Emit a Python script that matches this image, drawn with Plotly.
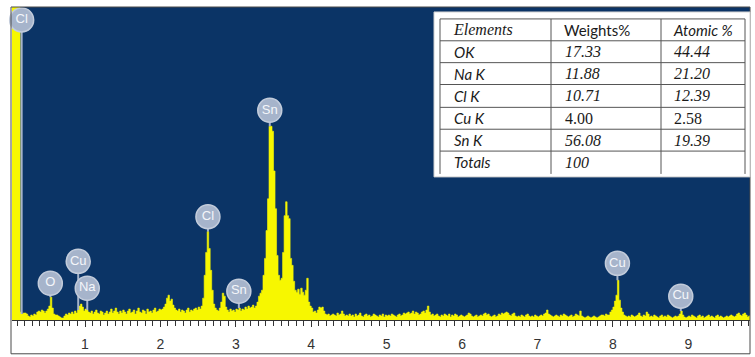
import numpy as np
import plotly.graph_objects as go

# ---------------- EDS spectrum (counts per 0.02 keV channel, 0.02 .. 9.82 keV) ----------------
E_START, E_STEP = 0.02, 0.02
counts = [
    # 0.02 - 0.50
    400, 400, 400, 400, 400, 400, 8, 6, 7, 7, 6, 4, 3, 5, 4, 6, 5, 8, 9, 8, 10, 9, 7, 9, 11,
    # 0.52 - 1.00
    14, 23, 12, 6, 5, 5, 4, 3, 2, 2, 4, 6, 5, 7, 6, 8, 6, 9, 7, 10, 14, 16, 13, 9, 11,
    # 1.02 - 1.50
    10, 8, 7, 9, 6, 8, 10, 7, 6, 9, 8, 5, 7, 9, 6, 8, 11, 7, 9, 12, 8, 6, 9, 7, 10,
    # 1.52 - 2.00
    8, 6, 9, 11, 7, 8, 10, 6, 9, 12, 8, 7, 10, 9, 6, 11, 8, 9, 7, 10, 12, 8, 9, 11, 10,
    # 2.02 - 2.50
    11, 13, 16, 22, 25, 19, 21, 15, 12, 10, 9, 11, 8, 10, 9, 7, 10, 12, 8, 10, 9, 11, 12, 10, 13,
    # 2.52 - 3.00
    11, 14, 22, 45, 68, 89, 72, 50, 30, 16, 12, 10, 9, 12, 18, 27, 24, 13, 10, 8, 11, 9, 10, 8, 11,
    # 3.02 - 3.50
    10, 12, 9, 11, 10, 13, 11, 14, 12, 13, 15, 12, 14, 18, 24, 27, 30, 45, 62, 90, 122, 195, 195, 190, 150,
    # 3.52 - 4.00
    112, 65, 45, 40, 42, 68, 105, 119, 105, 102, 62, 55, 39, 30, 28, 31, 26, 32, 28, 25, 30, 42, 18, 14, 12,
    # 4.02 - 4.50
    8, 9, 7, 10, 13, 12, 13, 9, 6, 5, 6, 4, 5, 6, 5, 4, 7, 5, 6, 9, 6, 4, 5, 4, 6,
    # 4.52 - 5.00
    4, 5, 3, 6, 4, 5, 7, 4, 3, 5, 6, 4, 5, 3, 4, 6, 5, 4, 3, 5, 4, 6, 3, 5, 4,
    # 5.02 - 5.50
    5, 4, 6, 5, 4, 3, 5, 6, 4, 5, 7, 6, 7, 8, 6, 7, 9, 6, 8, 7, 5, 6, 8, 9, 7,
    # 5.52 - 6.00
    10, 14, 8, 5, 6, 4, 5, 6, 4, 3, 5, 4, 6, 5, 4, 6, 3, 5, 4, 6, 5, 3, 4, 5, 4,
    # 6.02 - 6.50
    3, 4, 5, 7, 6, 4, 3, 4, 5, 3, 4, 5, 4, 6, 7, 5, 6, 4, 3, 4, 5, 3, 4, 6, 5,
    # 6.52 - 7.00
    7, 6, 7, 8, 7, 5, 4, 6, 7, 4, 3, 4, 3, 5, 4, 3, 5, 6, 4, 3, 4, 3, 5, 4, 3,
    # 7.02 - 7.50
    4, 5, 4, 6, 7, 10, 6, 5, 4, 3, 4, 5, 4, 3, 5, 4, 6, 5, 4, 3, 4, 5, 3, 4, 6,
    # 7.52 - 8.00
    5, 4, 9, 4, 3, 2, 3, 4, 3, 2, 3, 4, 3, 2, 3, 4, 5, 5, 4, 6, 5, 5, 8, 10, 13,
    # 8.02 - 8.50
    19, 25, 40, 20, 12, 8, 5, 4, 3, 4, 3, 5, 4, 3, 4, 5, 7, 4, 3, 5, 4, 8, 6, 3, 4,
    # 8.52 - 9.00
    3, 5, 4, 3, 2, 4, 5, 3, 4, 3, 5, 4, 3, 2, 3, 4, 3, 4, 6, 9, 5, 3, 2, 3, 4,
    # 9.02 - 9.50
    3, 5, 4, 3, 2, 4, 5, 3, 4, 2, 3, 4, 5, 3, 4, 3, 2, 4, 5, 3, 4, 3, 2, 3, 4,
    # 9.52 - 9.82
    3, 4, 5, 4, 3, 4, 6, 7, 5, 4, 6, 7, 5, 3, 4, 5,
]
energy = np.round(E_START + E_STEP * np.arange(len(counts)), 2)

# ---------------- peak identification badges ----------------
peak_names = ["Cl", "O", "Cu", "Na", "Cl", "Sn", "Sn", "Cu", "Cu"]
peak_energy = [0.16, 0.54, 0.91, 1.03, 2.63, 3.04, 3.45, 8.06, 8.90]
badge_height = [302, 37, 59, 32, 104, 29, 211, 57, 24]

# ---------------- quantification table ----------------
table_header = ["Elements", "Weights%", "Atomic %"]
table_elements = ["OK", "Na K", "Cl K", "Cu K", "Sn K", "Totals"]
table_weight = ["17.33", "11.88", "10.71", "4.00", "56.08", "100"]
table_atomic = ["44.44", "21.20", "12.39", "2.58", "19.39", ""]

tick_values = [1, 2, 3, 4, 5, 6, 7, 8, 9]

# ---------------- geometry helpers (pixel -> paper) ----------------
W, H = 755, 357
M_L, M_R, M_T, M_B = 12, 5, 7, 35
PW, PH = W - M_L - M_R, H - M_T - M_B
Y_BOTTOM = H - M_B


def xp(px):
    return (px - M_L) / PW


def yp(py):
    return (Y_BOTTOM - py) / PH


NAVY = "#0b3466"
YELLOW = "#f7f700"
BADGE = "#a6b4cb"

fig = go.Figure()

fig.add_trace(go.Scatter(
    x=energy, y=counts, mode="lines", line=dict(color=YELLOW, width=0.6, shape="hv"),
    fill="tozeroy", fillcolor=YELLOW, hoverinfo="skip", showlegend=False,
))

# stems from each badge down to the spectrum
def channel_value(e):
    idx = int(round((e - E_START) / E_STEP))
    return counts[min(max(idx, 0), len(counts) - 1)]


stem_x, stem_y = [], []
for e, h in zip(peak_energy, badge_height):
    stem_x += [e, e, None]
    stem_y += [h - 10, min(channel_value(e), h - 10), None]
fig.add_trace(go.Scatter(
    x=stem_x, y=stem_y, mode="lines", line=dict(color=BADGE, width=2),
    hoverinfo="skip", showlegend=False,
))

for name, e, h in zip(peak_names, peak_energy, badge_height):
    fig.add_trace(go.Scatter(
        x=[e], y=[h], mode="markers+text", text=[name], textposition="middle center",
        marker=dict(size=24, color=BADGE, line=dict(color="#c3ccdb", width=1.5)),
        textfont=dict(family="Liberation Sans, Arial", size=13, color="#f4f6fa"),
        hoverinfo="skip", showlegend=False, cliponaxis=False,
    ))

shapes = []
# outer frame of the chart
shapes.append(dict(type="rect", xref="paper", yref="paper",
                   x0=xp(11), x1=xp(750), y0=yp(356), y1=yp(M_T),
                   line=dict(color="#4a4a4a", width=1), layer="above"))

# table background and grid
shapes.append(dict(type="rect", xref="paper", yref="paper",
                   x0=xp(434), x1=xp(750), y0=yp(178), y1=yp(12),
                   fillcolor="white", line=dict(color="#cfcfcf", width=1), layer="above"))
col_lines = [440, 551, 661, 745]
row_lines = [19, 41, 63, 85, 108, 130, 152]
for cx in col_lines:
    shapes.append(dict(type="line", xref="paper", yref="paper",
                       x0=xp(cx), x1=xp(cx), y0=yp(19), y1=yp(175),
                       line=dict(color="#555555", width=1), layer="above"))
for ry in row_lines:
    shapes.append(dict(type="line", xref="paper", yref="paper",
                       x0=xp(440), x1=xp(745), y0=yp(ry), y1=yp(ry),
                       line=dict(color="#555555", width=1), layer="above"))

annotations = []
SERIF = "Liberation Serif, Times New Roman"
SANS = "Lato, Liberation Sans"


def cell(text, px, py, family, italic=True, size=15):
    if not text:
        return
    t = f"<i>{text}</i>" if italic else text
    annotations.append(dict(xref="paper", yref="paper", x=xp(px), y=yp(py),
                            xanchor="left", yanchor="middle", showarrow=False,
                            text=t, font=dict(family=family, size=size, color="#1a1a1a")))


row_centers = [30, 52, 74, 96.5, 119, 141, 163]
cell(table_header[0], 451, row_centers[0], SERIF, True, 16)
cell(table_header[1], 562, row_centers[0], SANS, False, 15)
cell(table_header[2], 671, row_centers[0], SANS, True, 15)
for i, (el, w, a) in enumerate(zip(table_elements, table_weight, table_atomic)):
    yc = row_centers[i + 1]
    cell(el, 452, yc, SANS, True, 15)
    upright = w in ("4.00",)
    cell(w, 563, yc, SERIF, not upright, 16)
    cell(a, 672, yc, SERIF, a != "2.58", 16)

fig.update_layout(
    width=W, height=H,
    margin=dict(l=M_L, r=M_R, t=M_T, b=M_B, pad=0),
    paper_bgcolor="white", plot_bgcolor=NAVY,
    shapes=shapes, annotations=annotations,
    xaxis=dict(
        range=[0.032, 9.818], tickvals=tick_values, ticktext=[str(v) for v in tick_values],
        ticks="outside", ticklen=6, tickwidth=1, tickcolor="#333333",
        minor=dict(dtick=0.1, ticks="outside", ticklen=5, tickwidth=1, tickcolor="#333333"),
        showline=True, linecolor="#333333", linewidth=1, showgrid=False, zeroline=False,
        tickfont=dict(family="Liberation Sans, Arial", size=14, color="#333333"),
        ticklabelstandoff=5,
    ),
    yaxis=dict(range=[0, PH], visible=False, showgrid=False, zeroline=False),
)

fig.write_html("out.html")
